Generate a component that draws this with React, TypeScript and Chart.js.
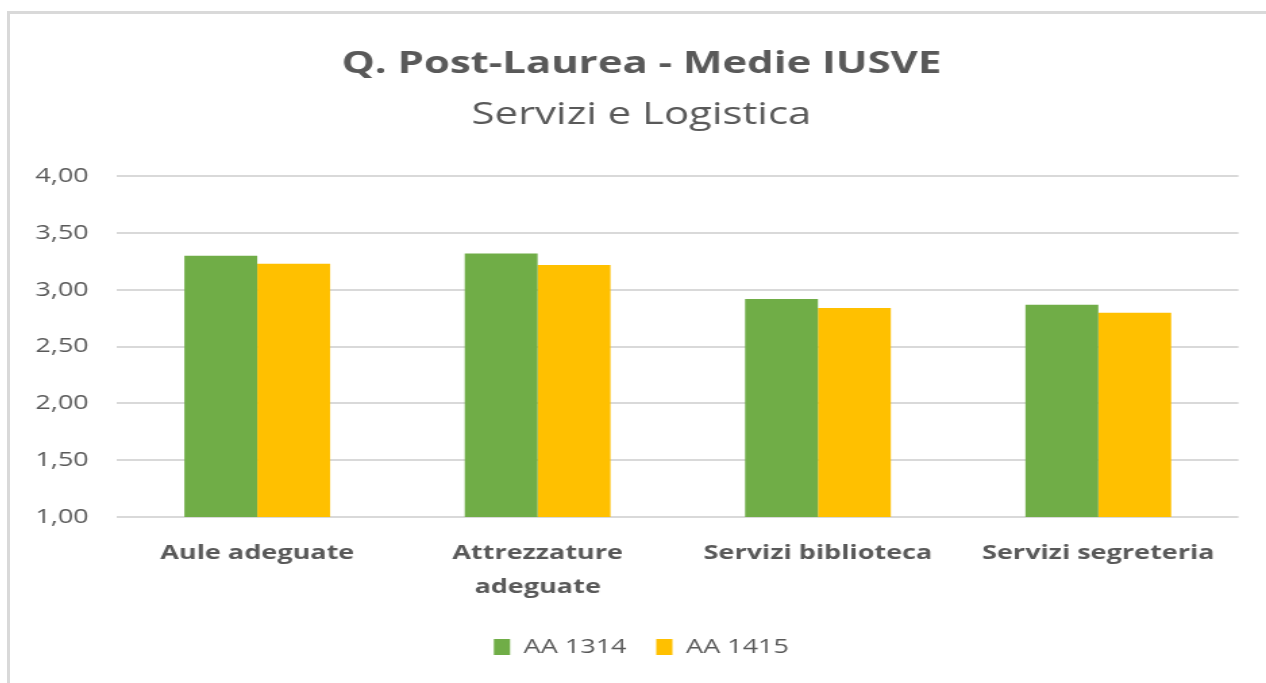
import React, { useEffect, useRef } from "react";
import { Chart, registerables } from "chart.js";

Chart.register(...registerables);

const categories: (string | string[])[] = [
  "Aule adeguate",
  ["Attrezzature", "adeguate"],
  "Servizi biblioteca",
  "Servizi segreteria",
];
const seriesNames = ["AA 1314", "AA 1415"];
const aa1314 = [3.3, 3.32, 2.92, 2.87];
const aa1415 = [3.23, 3.22, 2.84, 2.8];
const seriesColors = ["#70AD47", "#FFC000"];
const yMin = 1;
const yMax = 4;
const yStep = 0.5;
const titleText = "Q. Post-Laurea - Medie IUSVE";
const subtitleText = "Servizi e Logistica";

const FONT = "'Open Sans', 'Noto Sans', sans-serif";
const TEXT = "#595959";
const CANVAS_W = 930;
const CANVAS_H = 669;
const STRETCH = 1256 / CANVAS_W;

export default function App() {
  const ref = useRef<HTMLCanvasElement | null>(null);

  useEffect(() => {
    if (!ref.current) return;
    const chart = new Chart(ref.current, {
      type: "bar",
      data: {
        labels: categories,
        datasets: [
          {
            label: seriesNames[0],
            data: aa1314,
            backgroundColor: seriesColors[0],
            barPercentage: 1,
            categoryPercentage: 0.52,
          },
          {
            label: seriesNames[1],
            data: aa1415,
            backgroundColor: seriesColors[1],
            barPercentage: 1,
            categoryPercentage: 0.52,
          },
        ],
      },
      options: {
        animation: false,
        responsive: false,
        maintainAspectRatio: false,
        layout: { padding: { left: 10, right: 5, top: 0, bottom: 16 } },
        plugins: {
          tooltip: { enabled: false },
          title: {
            display: true,
            text: titleText,
            color: TEXT,
            font: { family: FONT, size: 31, weight: "bold" },
            padding: { top: 32, bottom: 13 },
          },
          subtitle: {
            display: true,
            text: subtitleText,
            color: TEXT,
            font: { family: FONT, size: 31, weight: "normal" },
            padding: { top: 0, bottom: 43 },
          },
          legend: {
            position: "bottom",
            labels: {
              color: TEXT,
              font: { family: FONT, size: 20 },
              boxWidth: 12,
              boxHeight: 16,
              padding: 22,
            },
          },
        },
        scales: {
          x: {
            afterFit: (s: any) => {
              s.height = 98;
            },
            grid: { display: false },
            border: { display: false },
            ticks: {
              color: TEXT,
              font: { family: FONT, size: 20, weight: "bold", lineHeight: 1.7 },
              padding: 11,
              maxRotation: 0,
              autoSkip: false,
            },
          },
          y: {
            min: yMin,
            max: yMax,
            afterFit: (s: any) => {
              s.width = 69.3;
            },
            grid: { color: "#D9D9D9", lineWidth: 2, drawTicks: false },
            border: { display: false },
            ticks: {
              stepSize: yStep,
              color: TEXT,
              font: { family: FONT, size: 20 },
              padding: 21,
              callback: (v: any) => Number(v).toFixed(2).replace(".", ","),
            },
          },
          yRight: {
            type: "linear",
            position: "right",
            display: true,
            afterFit: (s: any) => {
              s.width = 15.4;
            },
            grid: { display: false },
            border: { display: false },
            ticks: { display: false },
          },
        },
      },
    });
    return () => chart.destroy();
  }, []);

  return (
    <div
      style={{
        position: "absolute",
        left: 7,
        top: 11,
        width: 1259,
        height: 672,
        borderTop: "3px solid #D9D9D9",
        borderLeft: "3px solid #D9D9D9",
        boxSizing: "border-box",
        background: "#fff",
        overflow: "hidden",
      }}
    >
      <canvas
        ref={ref}
        width={CANVAS_W}
        height={CANVAS_H}
        style={{
          display: "block",
          width: CANVAS_W,
          height: CANVAS_H,
          transform: `scaleX(${STRETCH})`,
          transformOrigin: "0 0",
        }}
      />
    </div>
  );
}
